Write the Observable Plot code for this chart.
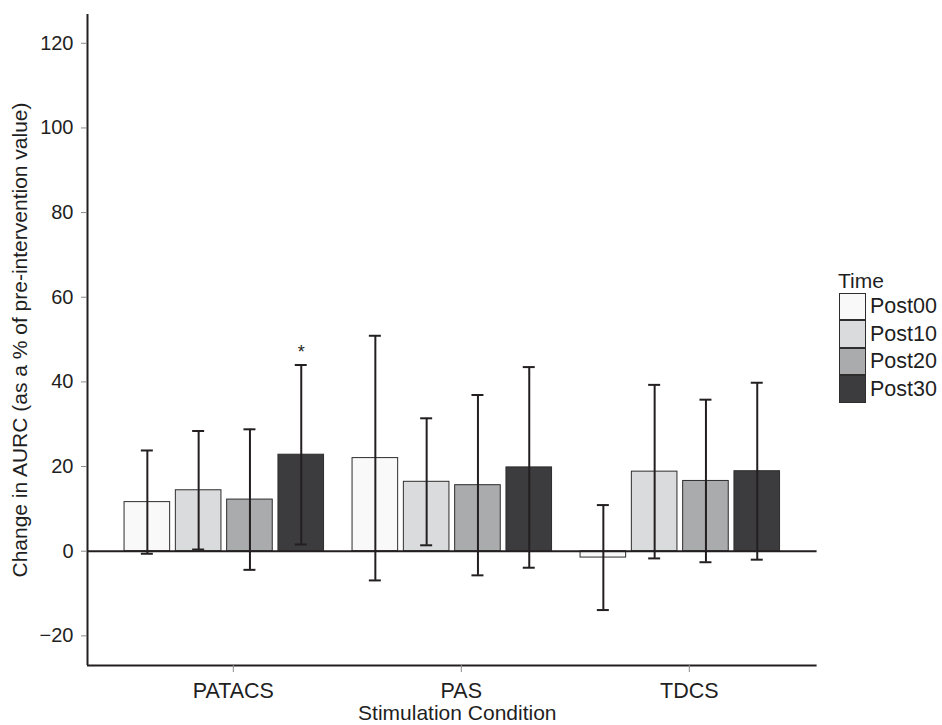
<!DOCTYPE html>
<html>
<head>
<meta charset="utf-8">
<script src="https://cdn.jsdelivr.net/npm/d3@7"></script>
<script src="https://cdn.jsdelivr.net/npm/@observablehq/plot@0.6"></script>
<style>
  html, body { margin: 0; padding: 0; background: #fff; }
  #wrap { position: relative; width: 942px; height: 725px; font-family: "Liberation Sans", Arial, sans-serif; }
  #legend { position: absolute; left: 839px; top: 270px; color: #1f1f1f; }
  #legend .title { font-size: 21px; margin-left: -1px; line-height: 22px; margin-bottom: 1px; }
  #legend .row { display: flex; align-items: center; height: 27.5px; }
  #legend .sw { width: 27px; height: 27.5px; box-sizing: border-box; border: 1px solid #2d2d2d; margin-top: -1px; }
  #legend .row:first-of-type .sw { margin-top: 0; }
  #legend .lab { font-size: 21.5px; margin-left: 4px; white-space: nowrap; }
</style>
</head>
<body>
<div id="wrap"></div>
<script>
// ---- data ----
const categories = ["PATACS", "PAS", "TDCS"];
const times = ["Post00", "Post10", "Post20", "Post30"];
const meanPATACS = [11.6, 14.4, 12.2, 22.8];
const sdPATACS   = [12.2, 14.0, 16.6, 21.2];
const meanPAS    = [22.0, 16.4, 15.6, 19.8];
const sdPAS      = [28.9, 15.0, 21.3, 23.7];
const meanTDCS   = [-1.5, 18.8, 16.6, 18.9];
const sdTDCS     = [12.4, 20.5, 19.2, 20.9];
const significant = [{condition: "PATACS", time: "Post30"}];
const yTicks = [-20, 0, 20, 40, 60, 80, 100, 120];
const fills = ["#f9f9f9", "#dadbdd", "#aaabac", "#3c3c3e"];

const means = [meanPATACS, meanPAS, meanTDCS];
const sds = [sdPATACS, sdPAS, sdTDCS];
const rows = [];
categories.forEach((c, ci) => times.forEach((t, ti) => {
  rows.push({condition: c, time: t, ci, ti, mean: means[ci][ti], sd: sds[ci][ti]});
}));
const sigRows = rows.filter(r => significant.some(s => s.condition === r.condition && s.time === r.time));

// ggplot-like dodge layout on a linear scale
const dodge = 0.9 / times.length;
const halfBar = 0.8 / times.length / 2;
const halfCap = 0.0263;
const xc = d => d.ci + 1 + (d.ti - (times.length - 1) / 2) * dodge;
const xDomain = [0.4, categories.length + 0.6];
const yDomain = [-27, 126.8];
const ink = "#231f20";
const fmt = d => d < 0 ? "\u2212" + Math.abs(d) : String(d);

const chart = Plot.plot({
  width: 942,
  height: 725,
  marginLeft: 87,
  marginRight: 125.4,
  marginTop: 14,
  marginBottom: 60,
  style: {fontFamily: "'Liberation Sans', Arial, sans-serif", background: "#fff", color: "#1f1f1f"},
  x: {type: "linear", domain: xDomain, axis: null},
  y: {domain: yDomain, axis: null},
  color: {domain: times, range: fills},
  marks: [
    Plot.rect(rows, {x1: d => xc(d) - halfBar, x2: d => xc(d) + halfBar, y1: 0, y2: "mean", fill: "time", stroke: "#2d2d2d", strokeWidth: 1}),
    Plot.ruleY([0], {stroke: ink, strokeWidth: 2}),
    Plot.ruleX(rows, {x: xc, y1: d => d.mean - d.sd, y2: d => d.mean + d.sd, stroke: ink, strokeWidth: 2}),
    Plot.ruleY(rows, {y: d => d.mean + d.sd, x1: d => xc(d) - halfCap, x2: d => xc(d) + halfCap, stroke: ink, strokeWidth: 2}),
    Plot.ruleY(rows, {y: d => d.mean - d.sd, x1: d => xc(d) - halfCap, x2: d => xc(d) + halfCap, stroke: ink, strokeWidth: 2}),
    Plot.text(sigRows, {x: xc, y: d => d.mean + d.sd, text: () => "*", dy: -13, fontSize: 18, fill: ink}),
    Plot.ruleX([xDomain[0]], {stroke: ink, strokeWidth: 2}),
    Plot.ruleY([yDomain[0]], {stroke: ink, strokeWidth: 2}),
    Plot.axisY({ticks: yTicks, tickFormat: fmt, tickSize: 6, tickPadding: 8, fontSize: 20, stroke: "#8a8a8a", fill: "#1f1f1f", label: null}),
    Plot.axisX({ticks: [1, 2, 3], tickFormat: i => categories[i - 1], tickSize: 7, tickPadding: 10, fontSize: 21.5, stroke: "#8a8a8a", fill: "#1f1f1f", dx: 9, label: null}),
    Plot.text(["Change in AURC (as a % of pre-intervention value)"], {frameAnchor: "left", textAnchor: "middle", lineAnchor: "middle", dx: -67, rotate: -90, fontSize: 21, fill: "#1f1f1f"}),
    Plot.text(["Stimulation Condition"], {frameAnchor: "bottom", textAnchor: "middle", lineAnchor: "middle", dy: 48, dx: 5, fontSize: 21, fill: "#1f1f1f"})
  ]
});

const wrap = document.getElementById("wrap");
wrap.appendChild(chart);

// legend
const color = chart.scale("color");
const leg = document.createElement("div");
leg.id = "legend";
const title = document.createElement("div");
title.className = "title";
title.textContent = "Time";
leg.appendChild(title);
color.domain.forEach((t, i) => {
  const row = document.createElement("div");
  row.className = "row";
  const sw = document.createElement("div");
  sw.className = "sw";
  sw.style.background = color.range[i];
  const lab = document.createElement("span");
  lab.className = "lab";
  lab.textContent = t;
  row.appendChild(sw);
  row.appendChild(lab);
  leg.appendChild(row);
});
wrap.appendChild(leg);
</script>
</body>
</html>
